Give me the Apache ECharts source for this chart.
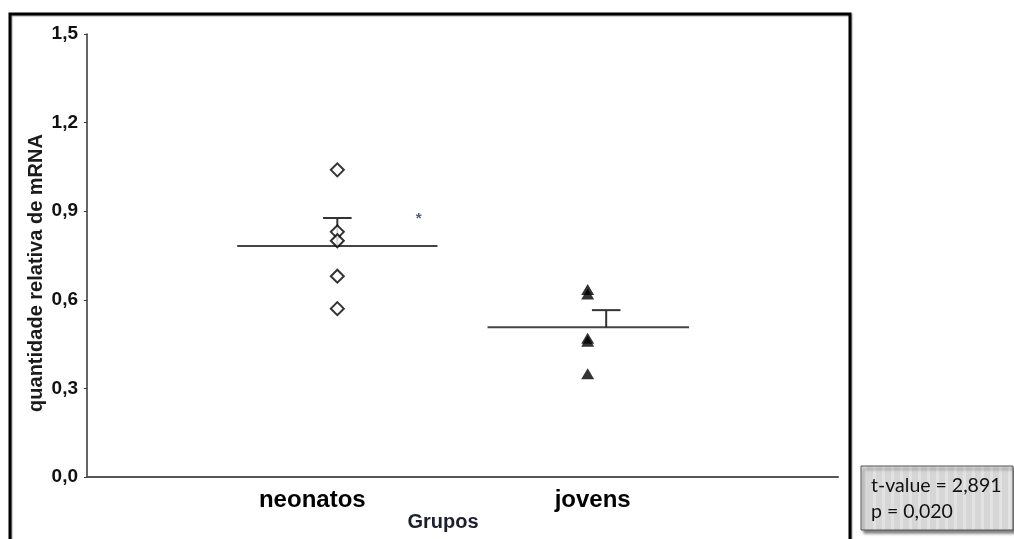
<!DOCTYPE html>
<html>
<head>
<meta charset="utf-8">
<script src="https://cdn.jsdelivr.net/npm/echarts@6/dist/echarts.min.js"></script>
<style>
  html, body { margin: 0; padding: 0; background: #fff; }
  #chart { width: 1014px; height: 539px; }
</style>
</head>
<body>
<div id="chart"></div>
<script>
// groups and where their points sit on the x scale
const groups = ['neonatos', 'jovens'];
const groupX = [1, 2];
const labelX = [0.9, 2.02];

// individual values
const neonatosVals = [1.04, 0.83, 0.80, 0.68, 0.57];
const jovensVals = [0.635, 0.62, 0.47, 0.46, 0.35];

// mean lines and error bars
const means = [0.782, 0.507];
const meanFrom = [0.6, 1.6];
const meanTo = [1.4, 2.405];
const errTop = [0.877, 0.565];
const errX = [1.0, 2.074];

const yTicks = [0, 0.3, 0.6, 0.9, 1.2, 1.5];

const FONT = 'Liberation Sans, Arial, sans-serif';

const chart = echarts.init(document.getElementById('chart'));

// light striped fill for the stats box
const stripe = document.createElement('canvas');
stripe.width = 9; stripe.height = 2;
const sctx = stripe.getContext('2d');
sctx.fillStyle = '#d6d6d6';
sctx.fillRect(0, 0, 9, 2);
sctx.fillStyle = '#e2e2e2';
sctx.fillRect(0, 0, 3, 2);

chart.setOption({
  animation: false,
  grid: { left: 87, right: 176, top: 34, bottom: 62 },
  xAxis: {
    type: 'value',
    min: 0,
    max: 3,
    splitLine: { show: false },
    axisTick: { show: false },
    axisLine: { lineStyle: { color: '#555', width: 2 } },
    axisLabel: {
      customValues: labelX,
      margin: 11,
      fontFamily: FONT,
      fontWeight: 'bold',
      fontSize: 24,
      color: '#000',
      formatter: v => {
        let best = 0;
        labelX.forEach((x, i) => { if (Math.abs(x - v) < Math.abs(labelX[best] - v)) best = i; });
        return groups[best];
      }
    }
  },
  yAxis: {
    type: 'value',
    min: yTicks[0],
    max: yTicks[yTicks.length - 1],
    interval: 0.3,
    splitLine: { show: false },
    axisLine: { show: true, lineStyle: { color: '#333', width: 1.5 } },
    axisTick: { show: true, length: 3, lineStyle: { color: '#333' } },
    axisLabel: {
      margin: 9,
      fontFamily: FONT,
      fontWeight: 'bold',
      fontSize: 19,
      color: '#111',
      formatter: v => v.toFixed(1).replace('.', ',')
    }
  },
  series: [
    {
      type: 'line',
      data: [[meanFrom[0], means[0]], [meanTo[0], means[0]]],
      symbol: 'none',
      lineStyle: { color: '#444', width: 2 },
      z: 1
    },
    {
      type: 'line',
      data: [[meanFrom[1], means[1]], [meanTo[1], means[1]]],
      symbol: 'none',
      lineStyle: { color: '#444', width: 2 },
      z: 1
    },
    {
      type: 'custom',
      data: means.map((m, i) => [errX[i], m, errTop[i]]),
      renderItem: (params, api) => {
        const x = api.value(0);
        const base = api.coord([x, api.value(1)]);
        const top = api.coord([x, api.value(2)]);
        const capL = api.coord([x - 0.057, api.value(2)]);
        const capR = api.coord([x + 0.057, api.value(2)]);
        const style = { stroke: '#333', lineWidth: 2 };
        return {
          type: 'group',
          children: [
            { type: 'line', shape: { x1: base[0], y1: base[1], x2: top[0], y2: top[1] }, style },
            { type: 'line', shape: { x1: capL[0], y1: capL[1], x2: capR[0], y2: capR[1] }, style }
          ]
        };
      },
      z: 2
    },
    {
      type: 'scatter',
      data: neonatosVals.map(v => [groupX[0], v]),
      symbol: 'diamond',
      symbolSize: [13, 13],
      itemStyle: { color: '#fff', borderColor: '#000', borderWidth: 2 },
      z: 3
    },
    {
      type: 'scatter',
      data: jovensVals.map(v => [groupX[1], v]),
      symbol: 'triangle',
      symbolSize: [13, 11],
      itemStyle: { color: '#000' },
      z: 3
    },
    {
      type: 'scatter',
      data: [[1.325, 0.873]],
      symbolSize: 0.1,
      itemStyle: { color: 'transparent' },
      label: {
        show: true,
        position: 'inside',
        formatter: '*',
        fontSize: 15,
        fontWeight: 'bold',
        fontFamily: FONT,
        color: '#2b3550'
      },
      z: 3
    }
  ],
  graphic: [
    {
      type: 'rect',
      shape: { x: 10, y: 14, width: 840, height: 620 },
      style: { fill: 'none', stroke: '#000', lineWidth: 3, shadowColor: 'rgba(0,0,0,0.35)', shadowOffsetX: 1, shadowOffsetY: 1, shadowBlur: 1 },
      silent: true,
      z: -1
    },
    {
      type: 'text',
      x: 36,
      y: 273,
      rotation: Math.PI / 2,
      style: {
        text: 'quantidade relativa de mRNA',
        font: 'bold 20px ' + FONT,
        fill: '#1c1a1a',
        align: 'center',
        verticalAlign: 'middle'
      }
    },
    {
      type: 'text',
      x: 443,
      y: 522,
      style: {
        text: 'Grupos',
        font: 'bold 20px ' + FONT,
        fill: '#1c1f2e',
        align: 'center',
        verticalAlign: 'middle'
      }
    },
    {
      type: 'rect',
      shape: { x: 861, y: 466, width: 152, height: 64 },
      style: {
        fill: { image: stripe, repeat: 'repeat' },
        stroke: '#555',
        lineWidth: 1,
        shadowColor: 'rgba(0,0,0,0.5)',
        shadowOffsetX: 3,
        shadowOffsetY: 3,
        shadowBlur: 3
      }
    },
    {
      type: 'text',
      x: 871,
      y: 486,
      style: { text: 't-value = 2,891', font: '19.5px Lato, sans-serif', fill: '#111', verticalAlign: 'middle' }
    },
    {
      type: 'text',
      x: 871,
      y: 512,
      style: { text: 'p = 0,020', font: '19.5px Lato, sans-serif', fill: '#111', verticalAlign: 'middle' }
    }
  ]
});
</script>
</body>
</html>
